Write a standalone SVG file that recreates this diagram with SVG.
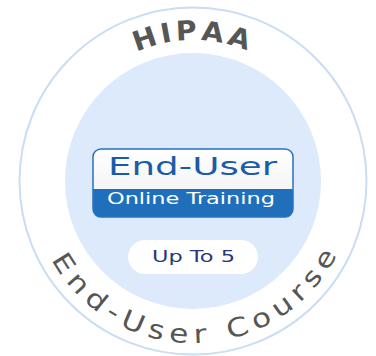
<svg xmlns="http://www.w3.org/2000/svg" width="376" height="356" viewBox="0 0 376 356">
  <defs>
    <style>
      .top { font-family: "DejaVu Sans", "Liberation Sans", sans-serif; font-size: 27px; font-weight: bold; fill: #565656; text-anchor: middle; }
      .bot { font-family: "DejaVu Sans", "Liberation Sans", sans-serif; font-size: 26px; fill: #565656; text-anchor: middle; }
      .card-title { font-family: "DejaVu Sans", "Liberation Sans", sans-serif; text-anchor: middle; }
    </style>
    <linearGradient id="cardTop" x1="0" y1="0" x2="0" y2="1">
      <stop offset="0" stop-color="#ffffff"/>
      <stop offset="1" stop-color="#eeeeee"/>
    </linearGradient>
    <clipPath id="cardClip">
      <rect x="93" y="149" width="200" height="68" rx="8"/>
    </clipPath>
  </defs>

  <g id="background">
    <rect width="376" height="356" fill="#ffffff"/>
    <circle cx="193" cy="181" r="173.5" fill="#ffffff" stroke="#c9ddf3" stroke-width="2"/>
    <circle cx="193" cy="181" r="128" fill="#dceafc"/>
  </g>

  <g id="title-top">
    <text class="top" transform="translate(147.40,47.57) rotate(-18.87) scale(1.05,1)">H</text>
    <text class="top" transform="translate(167.48,42.33) rotate(-10.43) scale(1.05,1)">I</text>
    <text class="top" transform="translate(186.63,40.14) rotate(-2.59) scale(1.05,1)">P</text>
    <text class="top" transform="translate(211.63,41.24) rotate(7.59) scale(1.05,1)">A</text>
    <text class="top" transform="translate(236.62,46.92) rotate(18.02) scale(1.05,1)">A</text>
  </g>

  <g id="card">
    <g clip-path="url(#cardClip)">
      <rect x="93" y="149" width="200" height="68" fill="url(#cardTop)"/>
      <rect x="93" y="189" width="200" height="28" fill="#1f6fbb"/>
    </g>
    <rect x="93" y="149" width="200" height="68" rx="8" fill="none" stroke="#2a72bd" stroke-width="1.5"/>
    <text class="card-title" x="192.5" y="175" font-size="24" fill="#1a5ca8" textLength="169" lengthAdjust="spacingAndGlyphs">End-User</text>
    <text class="card-title" x="191" y="204" font-size="15" fill="#ffffff" textLength="168" lengthAdjust="spacingAndGlyphs">Online Training</text>
  </g>

  <g id="pill">
    <rect x="128" y="240" width="130" height="34" rx="17" fill="#ffffff"/>
    <text class="card-title" x="193.5" y="262" font-size="15" fill="#27387a" textLength="83" lengthAdjust="spacingAndGlyphs">Up To 5</text>
  </g>

  <g id="title-bottom">
    <text class="bot" transform="translate(56.32,267.98) rotate(57.53) scale(1.2,1)">E</text>
    <text class="bot" transform="translate(72.05,288.78) rotate(48.29) scale(1.2,1)">n</text>
    <text class="bot" transform="translate(91.00,306.86) rotate(39.03) scale(1.2,1)">d</text>
    <text class="bot" transform="translate(108.94,319.48) rotate(31.26) scale(1.2,1)">-</text>
    <text class="bot" transform="translate(129.79,330.15) rotate(22.97) scale(1.2,1)">U</text>
    <text class="bot" transform="translate(154.36,338.32) rotate(13.80) scale(1.2,1)">s</text>
    <text class="bot" transform="translate(178.13,342.32) rotate(5.27) scale(1.2,1)">e</text>
    <text class="bot" transform="translate(200.52,342.83) rotate(-2.66) scale(1.2,1)">r</text>
    <text class="bot" transform="translate(239.88,336.07) rotate(-16.82) scale(1.2,1)">C</text>
    <text class="bot" transform="translate(264.80,326.22) rotate(-26.31) scale(1.2,1)">o</text>
    <text class="bot" transform="translate(286.94,312.98) rotate(-35.44) scale(1.2,1)">u</text>
    <text class="bot" transform="translate(304.47,298.55) rotate(-43.47) scale(1.2,1)">r</text>
    <text class="bot" transform="translate(318.66,283.24) rotate(-50.88) scale(1.2,1)">s</text>
    <text class="bot" transform="translate(332.45,263.44) rotate(-59.41) scale(1.2,1)">e</text>
  </g>
</svg>
